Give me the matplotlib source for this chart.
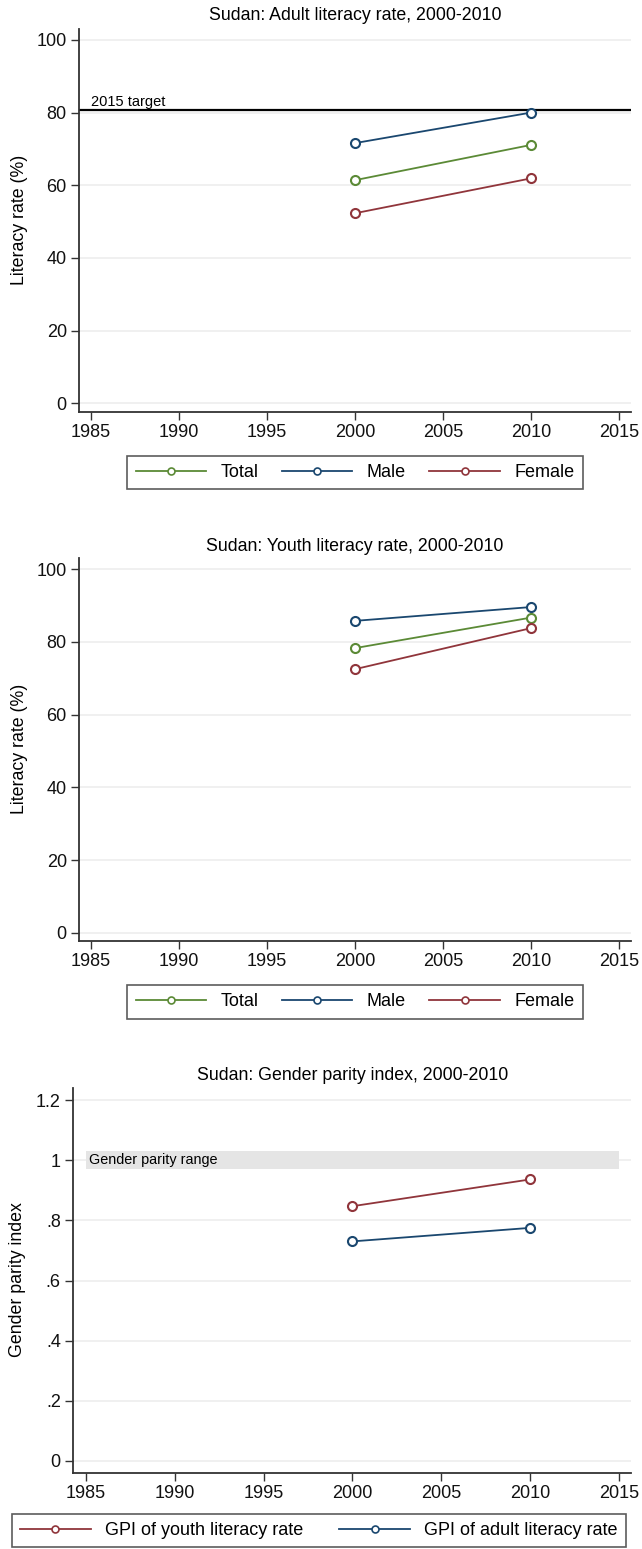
import matplotlib
matplotlib.use("Agg")
import matplotlib.pyplot as plt
from matplotlib.lines import Line2D
from matplotlib.patches import Rectangle

plt.rcParams['font.family'] = ['Liberation Sans', 'DejaVu Sans']

# ---- data ----
years = [2000, 2010]
adult_total = [61.4, 71.1]
adult_male = [71.6, 80.0]
adult_female = [52.3, 61.9]
youth_total = [78.3, 86.7]
youth_male = [85.8, 89.6]
youth_female = [72.5, 83.8]
gpi_youth = [0.847, 0.936]
gpi_adult = [0.730, 0.775]
target_2015 = 80.7
parity_low, parity_high = 0.97, 1.03

x_ticks = [1985, 1990, 1995, 2000, 2005, 2010, 2015]
lit_ticks = [0, 20, 40, 60, 80, 100]
gpi_ticks = [0, 0.2, 0.4, 0.6, 0.8, 1.0, 1.2]
gpi_tick_labels = ['0', '.2', '.4', '.6', '.8', '1', '1.2']

titles = ['Sudan: Adult literacy rate, 2000-2010',
          'Sudan: Youth literacy rate, 2000-2010',
          'Sudan: Gender parity index, 2000-2010']
series_labels = ['Total', 'Male', 'Female']
gpi_labels = ['GPI of youth literacy rate', 'GPI of adult literacy rate']

GREEN = '#5B8A36'
NAVY = '#1A476F'
MAROON = '#90353B'
SPINE = '#333333'
GRID = '#EEEEEE'

W, H = 642, 1549
fig = plt.figure(figsize=(W / 100, H / 100), dpi=100)


def px_axes(left, right, top, bottom):
    return fig.add_axes([left / W, 1 - bottom / H, (right - left) / W, (bottom - top) / H])


def style(ax):
    for s in ['top', 'right']:
        ax.spines[s].set_visible(False)
    for s in ['left', 'bottom']:
        ax.spines[s].set_color(SPINE)
        ax.spines[s].set_linewidth(1.3)
    ax.tick_params(axis='both', direction='out', length=6, width=1.0, color=SPINE,
                   labelsize=13, pad=3, labelcolor='#111111')
    ax.yaxis.grid(True, color=GRID, lw=1.2)
    ax.set_axisbelow(True)
    ax.set_xticks(x_ticks)


def draw_series(ax, y, color):
    ax.plot(years, y, color=color, lw=1.3, marker='o', ms=6.5, mfc='white',
            mec=color, mew=1.5, zorder=3)


def legend_handle(color):
    return Line2D([], [], color=color, lw=1.3, marker='o', ms=5, mfc='white',
                  mec=color, mew=1.2)


# ---- panel 1 ----
ax1 = px_axes(79.3, 631, 29, 411.7)
style(ax1)
ax1.set_xlim(1984.35, 2015.68)
ax1.set_ylim(-2.3, 103.0)
ax1.set_yticks(lit_ticks)
ax1.axhline(target_2015, color='black', lw=1.6, zorder=2)
ax1.text(1985, target_2015 + 0.4, '2015 target', fontsize=10.5, va='bottom', ha='left')
for y, c in zip([adult_total, adult_male, adult_female], [GREEN, NAVY, MAROON]):
    draw_series(ax1, y, c)

# ---- panel 2 ----
ax2 = px_axes(79.3, 631, 558, 940.7)
style(ax2)
ax2.set_xlim(1984.35, 2015.68)
ax2.set_ylim(-2.2, 103.1)
ax2.set_yticks(lit_ticks)
for y, c in zip([youth_total, youth_male, youth_female], [GREEN, NAVY, MAROON]):
    draw_series(ax2, y, c)

# ---- panel 3 ----
ax3 = px_axes(73.3, 631, 1088, 1472.7)
style(ax3)
ax3.set_xlim(1984.30, 2015.67)
ax3.set_ylim(-0.039, 1.24)
ax3.set_yticks(gpi_ticks)
ax3.set_yticklabels(gpi_tick_labels)
ax3.add_patch(Rectangle((1985, parity_low), 2015 - 1985, parity_high - parity_low,
                        facecolor='#E5E5E5', edgecolor='none', zorder=1.5))
ax3.text(1985.2, 1.0, 'Gender parity range', fontsize=10.4, va='center', ha='left', zorder=2)
draw_series(ax3, gpi_youth, MAROON)
draw_series(ax3, gpi_adult, NAVY)

# ---- titles and y labels ----
for ax, t, ty in zip([ax1, ax2, ax3], titles, [15, 546, 1075]):
    pos = ax.get_position()
    fig.text(pos.x0 + pos.width / 2, 1 - ty / H, t, ha='center', va='center', fontsize=12.8)

fig.text(19.3 / W, 1 - 220 / H, 'Literacy rate (%)', rotation=90, ha='center', va='center', fontsize=12.8)
fig.text(19.3 / W, 1 - 749 / H, 'Literacy rate (%)', rotation=90, ha='center', va='center', fontsize=12.8)
fig.text(18 / W, 1 - 1280 / H, 'Gender parity index', rotation=90, ha='center', va='center', fontsize=12.8)

# ---- legends ----
leg_kw = dict(ncol=3, frameon=True, fancybox=False, edgecolor=SPINE, fontsize=13,
              handlelength=3.9, columnspacing=1.3, handletextpad=0.8, borderpad=0.45,
              numpoints=1, borderaxespad=0)
for cy in [472.5, 1002]:
    leg = fig.legend([legend_handle(c) for c in [GREEN, NAVY, MAROON]], series_labels,
                     loc='center', bbox_to_anchor=(355 / W, 1 - cy / H), **leg_kw)
    leg.get_frame().set_linewidth(1.2)

leg3 = fig.legend([legend_handle(c) for c in [MAROON, NAVY]], gpi_labels,
                  loc='center', bbox_to_anchor=(319 / W, 1 - 1530.5 / H),
                  ncol=2, frameon=True, fancybox=False, edgecolor=SPINE, fontsize=13,
                  handlelength=3.9, columnspacing=2.0, handletextpad=0.8, borderpad=0.45,
                  numpoints=1, borderaxespad=0)
leg3.get_frame().set_linewidth(1.2)

fig.savefig('out.png', dpi=100, facecolor='white')
